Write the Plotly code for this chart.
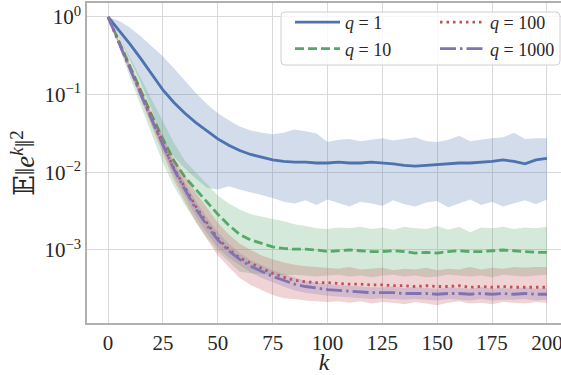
import numpy as np
import plotly.graph_objects as go

# iterations (read every 5 steps)
k = list(range(0, 201, 5))

# log10 of E||e^k||^2 (mean, upper band, lower band)
q1_mean = [0, -0.17, -0.35, -0.54, -0.74, -0.94, -1.10, -1.24, -1.36, -1.47, -1.57, -1.65, -1.72, -1.77, -1.81, -1.84, -1.86, -1.87, -1.87, -1.88, -1.88, -1.87, -1.88, -1.88, -1.87, -1.88, -1.89, -1.91, -1.92, -1.91, -1.90, -1.89, -1.88, -1.88, -1.87, -1.86, -1.84, -1.86, -1.89, -1.84, -1.82]
q1_upper = [0, -0.05, -0.14, -0.25, -0.38, -0.51, -0.66, -0.82, -0.98, -1.12, -1.24, -1.33, -1.41, -1.46, -1.49, -1.51, -1.49, -1.45, -1.47, -1.50, -1.61, -1.58, -1.57, -1.60, -1.58, -1.56, -1.59, -1.57, -1.55, -1.60, -1.61, -1.58, -1.53, -1.60, -1.58, -1.56, -1.55, -1.49, -1.57, -1.56, -1.56]
q1_lower = [0, -0.25, -0.55, -0.85, -1.20, -1.60, -1.80, -1.95, -2.08, -2.20, -2.22, -2.18, -2.22, -2.26, -2.30, -2.33, -2.38, -2.40, -2.36, -2.42, -2.35, -2.40, -2.44, -2.38, -2.40, -2.43, -2.36, -2.41, -2.44, -2.39, -2.37, -2.45, -2.40, -2.35, -2.42, -2.38, -2.44, -2.40, -2.36, -2.41, -2.35]

q10_mean = [0, -0.32, -0.64, -0.96, -1.27, -1.57, -1.85, -2.06, -2.22, -2.38, -2.54, -2.68, -2.80, -2.87, -2.92, -2.96, -2.98, -2.99, -2.99, -3.00, -3.02, -3.01, -3.00, -3.01, -3.02, -3.02, -3.01, -3.02, -3.04, -3.03, -3.04, -3.02, -3.01, -3.02, -3.02, -3.01, -3.00, -3.01, -3.02, -3.03, -3.03]
q10_upper = [0, -0.25, -0.52, -0.80, -1.08, -1.35, -1.62, -1.85, -2.00, -2.15, -2.30, -2.40, -2.48, -2.54, -2.57, -2.60, -2.63, -2.67, -2.69, -2.72, -2.73, -2.71, -2.72, -2.70, -2.73, -2.71, -2.74, -2.70, -2.72, -2.73, -2.69, -2.74, -2.70, -2.77, -2.71, -2.72, -2.70, -2.73, -2.71, -2.72, -2.70]
q10_lower = [0, -0.40, -0.78, -1.15, -1.52, -1.88, -2.18, -2.42, -2.64, -2.84, -3.02, -3.15, -3.28, -3.30, -3.31, -3.32, -3.33, -3.32, -3.33, -3.34, -3.33, -3.32, -3.34, -3.33, -3.35, -3.33, -3.32, -3.34, -3.33, -3.35, -3.34, -3.32, -3.33, -3.34, -3.33, -3.35, -3.32, -3.33, -3.34, -3.33, -3.32]

q100_mean = [0, -0.33, -0.66, -0.99, -1.32, -1.64, -1.95, -2.20, -2.44, -2.65, -2.85, -2.99, -3.10, -3.17, -3.24, -3.30, -3.35, -3.39, -3.41, -3.42, -3.42, -3.43, -3.44, -3.44, -3.45, -3.45, -3.46, -3.46, -3.47, -3.46, -3.47, -3.47, -3.46, -3.48, -3.47, -3.48, -3.47, -3.48, -3.48, -3.48, -3.48]
q100_upper = [0, -0.30, -0.60, -0.92, -1.24, -1.55, -1.82, -2.05, -2.26, -2.46, -2.65, -2.80, -2.92, -3.00, -3.07, -3.12, -3.16, -3.19, -3.21, -3.22, -3.23, -3.24, -3.22, -3.25, -3.24, -3.23, -3.26, -3.24, -3.25, -3.23, -3.26, -3.24, -3.25, -3.22, -3.25, -3.23, -3.24, -3.22, -3.23, -3.22, -3.22]
q100_lower = [0, -0.36, -0.72, -1.07, -1.42, -1.76, -2.10, -2.38, -2.64, -2.86, -3.07, -3.22, -3.36, -3.45, -3.52, -3.58, -3.62, -3.63, -3.65, -3.66, -3.67, -3.66, -3.68, -3.66, -3.69, -3.67, -3.68, -3.70, -3.67, -3.69, -3.71, -3.68, -3.66, -3.69, -3.68, -3.70, -3.67, -3.68, -3.69, -3.67, -3.68]

q1000_mean = [0, -0.34, -0.67, -1.00, -1.33, -1.65, -1.96, -2.22, -2.47, -2.68, -2.87, -3.01, -3.12, -3.21, -3.28, -3.34, -3.39, -3.44, -3.47, -3.49, -3.51, -3.52, -3.53, -3.54, -3.55, -3.55, -3.55, -3.56, -3.56, -3.56, -3.57, -3.56, -3.56, -3.57, -3.56, -3.57, -3.56, -3.57, -3.56, -3.57, -3.57]
q1000_upper = [0, -0.31, -0.63, -0.95, -1.27, -1.58, -1.88, -2.13, -2.37, -2.58, -2.77, -2.92, -3.04, -3.13, -3.20, -3.26, -3.31, -3.36, -3.40, -3.42, -3.44, -3.45, -3.46, -3.47, -3.48, -3.48, -3.47, -3.49, -3.48, -3.49, -3.50, -3.48, -3.49, -3.50, -3.48, -3.50, -3.49, -3.50, -3.48, -3.50, -3.49]
q1000_lower = [0, -0.37, -0.71, -1.05, -1.39, -1.72, -2.04, -2.31, -2.57, -2.78, -2.97, -3.10, -3.20, -3.29, -3.36, -3.42, -3.47, -3.52, -3.55, -3.57, -3.59, -3.60, -3.61, -3.62, -3.63, -3.62, -3.63, -3.64, -3.63, -3.64, -3.65, -3.63, -3.64, -3.65, -3.63, -3.65, -3.64, -3.64, -3.63, -3.65, -3.64]

series_names = ["<i>q</i> = 1", "<i>q</i> = 10", "<i>q</i> = 100", "<i>q</i> = 1000"]
x_ticks = [0, 25, 50, 75, 100, 125, 150, 175, 200]
y_ticks = [1, 0.1, 0.01, 0.001]
y_ticktext = ["10<sup>0</sup>", "10<sup>\u22121</sup>", "10<sup>\u22122</sup>", "10<sup>\u22123</sup>"]

colors = ["#4C72B0", "#55A868", "#C44E52", "#8172B2"]
fills = ["rgba(76,114,176,0.25)", "rgba(85,168,104,0.25)", "rgba(196,78,82,0.25)", "rgba(129,114,178,0.25)"]
dashes = ["solid", "9px,4px", "2.5px,4px", "16px,4px,2.5px,4px"]
legends = ["legend", "legend", "legend2", "legend2"]

data = [
    (q1_mean, q1_upper, q1_lower),
    (q10_mean, q10_upper, q10_lower),
    (q100_mean, q100_upper, q100_lower),
    (q1000_mean, q1000_upper, q1000_lower),
]

FONT = "'Liberation Serif', 'DejaVu Serif', serif"
fig = go.Figure()
for i, (m, u, l) in enumerate(data):
    fig.add_trace(go.Scatter(x=k, y=np.power(10.0, l), mode="lines", line=dict(width=0, color=fills[i]),
                             showlegend=False, hoverinfo="skip"))
    fig.add_trace(go.Scatter(x=k, y=np.power(10.0, u), mode="lines", line=dict(width=0, color=fills[i]),
                             fill="tonexty", fillcolor=fills[i], showlegend=False, hoverinfo="skip"))
    fig.add_trace(go.Scatter(x=k, y=np.power(10.0, m), mode="lines", name=series_names[i],
                             line=dict(color=colors[i], width=2.8, dash=dashes[i]),
                             legend=legends[i]))

W, H = 561, 375
L, R, T, B = 87, 0, 3, 52
pw, ph = W - L - R, H - T - B

def px_x(p):
    return (p - L) / pw

def px_y(p):
    return (H - B - p) / ph

# rounded legend frame
x0, x1, y0, y1 = px_x(281), px_x(560), px_y(65), px_y(12)
rx, ry = 4 / pw, 4 / ph
path = (f"M{x0+rx},{y0} L{x1-rx},{y0} Q{x1},{y0} {x1},{y0+ry} L{x1},{y1-ry} Q{x1},{y1} {x1-rx},{y1} "
        f"L{x0+rx},{y1} Q{x0},{y1} {x0},{y1-ry} L{x0},{y0+ry} Q{x0},{y0} {x0+rx},{y0} Z")
fig.add_shape(type="path", path=path, xref="paper", yref="paper", layer="above",
              fillcolor="rgba(255,255,255,0.8)", line=dict(color="#d0d0d0", width=1))

legend_common = dict(font=dict(family=FONT, size=18, color="#262626"), bgcolor="rgba(0,0,0,0)",
                     borderwidth=0, xanchor="left", yanchor="top", traceorder="normal",
                     itemwidth=45, tracegroupgap=0)

fig.update_layout(
    width=W, height=H,
    margin=dict(l=L, r=R, t=T, b=B, autoexpand=False),
    paper_bgcolor="white", plot_bgcolor="white",
    font=dict(family=FONT, size=21, color="#262626"),
    showlegend=True,
    legend=dict(x=px_x(290), y=px_y(4), **legend_common),
    legend2=dict(x=px_x(435), y=px_y(4), **legend_common),
    xaxis=dict(range=[-9.6, 206.4], tickvals=x_ticks, ticks="", showgrid=True, gridcolor="#d9d9d9",
               gridwidth=1.3, zeroline=False, showline=True, mirror=True, linecolor="#b0b0b0", linewidth=1.5,
               tickangle=0, ticklabeloverflow="allow",
               tickfont=dict(family=FONT, size=21, color="#262626"),
               title=dict(text="<i>k</i>", font=dict(family=FONT, size=24, color="#262626"), standoff=5)),
    yaxis=dict(type="log", range=[-3.94, 0.18], tickvals=y_ticks, ticktext=y_ticktext, ticks="",
               showgrid=True, gridcolor="#d9d9d9", gridwidth=1.3, zeroline=False, showline=True,
               linecolor="#b0b0b0", linewidth=1.5,
               tickfont=dict(family=FONT, size=21, color="#262626"),
               title=dict(text="\U0001D53C\u2016<i>e</i><sup><i>k</i></sup>\u2016<sup>2</sup>",
                          font=dict(family=FONT, size=27, color="#262626"), standoff=2)),
)

fig.write_html("out.html", config={"displayModeBar": False},
               post_script="document.body.style.margin='0';document.body.style.overflow='hidden';")
